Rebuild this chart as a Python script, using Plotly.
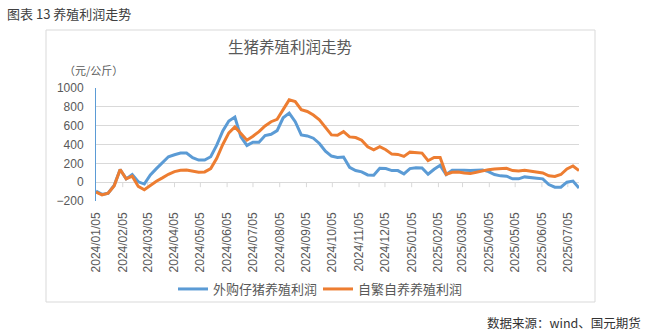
import pandas as pd
import plotly.graph_objects as go

# Weekly profit series (元/公斤)
dates = pd.date_range("2024-01-05", periods=81, freq="7D")

purchased_piglet = [
    -95, -130, -118, -35, 135, 35, 80, 4, -20, 77,
    144, 211, 270, 291, 309, 309, 260, 235, 235, 270,
    393, 544, 649, 691, 481, 390, 425, 425, 495, 509,
    547, 684, 734, 642, 502, 491, 467, 411, 330, 277,
    263, 267, 158, 123, 109, 77, 74, 147, 144, 123,
    123, 88, 144, 152, 151, 84, 137, 179, 81, 126,
    130, 126, 123, 130, 130, 112, 81, 67, 63, 35,
    35, 56, 53, 42, 35, -25, -53, -53, 0, 11,
    -63,
]

self_bred = [
    -105, -135, -118, -40, 135, 35, 63, -45, -80, -32,
    10, 46, 84, 112, 126, 130, 116, 105, 109, 144,
    253, 400, 523, 586, 516, 446, 488, 537, 597, 642,
    667, 776, 874, 856, 769, 751, 713, 663, 579, 502,
    498, 537, 481, 474, 446, 376, 344, 376, 344, 298,
    295, 274, 319, 316, 309, 228, 263, 263, 84, 105,
    109, 98, 91, 105, 123, 133, 140, 147, 147, 123,
    119, 126, 116, 105, 98, 67, 60, 81, 140, 172,
    123,
]

series_names = ["外购仔猪养殖利润", "自繁自养养殖利润"]
series_colors = ["#5b9bd5", "#ed7d31"]

tick_dates = pd.date_range("2024-01-05", "2025-07-05", freq=pd.DateOffset(months=1))
tick_labels = [d.strftime("%Y/%m/%d") for d in tick_dates]

y_ticks = [-200, 0, 200, 400, 600, 800, 1000]

# Figure geometry (pixels)
W, H = 648, 333
L, R, T, B = 96, 69, 88, 132
PW, PH = W - L - R, H - T - B


def px_x(x):
    return (x - L) / PW


def px_y(y):
    return (H - B - y) / PH


LATIN = "Liberation Sans, Arial, Noto Sans CJK SC"
CJK = "Noto Sans CJK SC"
GREY = "#595959"

fig = go.Figure()
for name, vals, col in zip(series_names, [purchased_piglet, self_bred], series_colors):
    fig.add_trace(go.Scatter(
        x=dates, y=vals, name=name, mode="lines",
        line=dict(color=col, width=3),
    ))

shapes = [
    # outer chart frame
    dict(type="rect", xref="paper", yref="paper",
         x0=px_x(46), x1=px_x(595), y0=px_y(302), y1=px_y(30),
         line=dict(color="#d9d9d9", width=1), layer="below"),
]
# category-axis tick marks hanging from the zero line
for d in tick_dates[1:]:
    shapes.append(dict(
        type="line", xref="x", yref="y", ysizemode="pixel", yanchor=0,
        x0=d, x1=d, y0=0, y1=-5,
        line=dict(color="#d9d9d9", width=1), layer="below",
    ))

annotations = [
    dict(text="图表 13 养殖利润走势", xref="paper", yref="paper",
         x=px_x(5), y=px_y(13), xanchor="left", yanchor="middle",
         showarrow=False, font=dict(family=CJK, size=13, color="#404040")),
    dict(text="生猪养殖利润走势", xref="paper", yref="paper",
         x=px_x(290), y=px_y(46), xanchor="center", yanchor="middle",
         showarrow=False, font=dict(family=CJK, size=15.5, color=GREY)),
    dict(text="（元/公斤）", xref="paper", yref="paper",
         x=px_x(62), y=px_y(70), xanchor="left", yanchor="middle",
         showarrow=False, font=dict(family=CJK, size=11, color=GREY)),
    dict(text="数据来源：wind、国元期货", xref="paper", yref="paper",
         x=px_x(643), y=px_y(322), xanchor="right", yanchor="middle",
         showarrow=False, font=dict(family=CJK, size=12.5, color="#333333")),
]

fig.update_layout(
    width=W, height=H,
    margin=dict(l=L, r=R, t=T, b=B, pad=0),
    paper_bgcolor="white", plot_bgcolor="white",
    showlegend=True,
    legend=dict(
        orientation="h", x=px_x(318), y=px_y(289),
        xanchor="center", yanchor="middle",
        font=dict(family=CJK, size=13, color=GREY),
        bgcolor="rgba(0,0,0,0)", itemwidth=30, tracegroupgap=0,
        entrywidth=100, entrywidthmode="pixels",
    ),
    shapes=shapes,
    annotations=annotations,
    xaxis=dict(
        type="date",
        range=[dates[0], dates[-1]],
        tickvals=tick_dates, ticktext=tick_labels,
        tickangle=-90, ticks="", showgrid=False, showline=False,
        zeroline=False, ticklabelstandoff=8,
        tickfont=dict(family=LATIN, size=12, color=GREY),
    ),
    yaxis=dict(
        range=[-200, 1000], tickvals=y_ticks,
        showgrid=True, gridcolor="#d9d9d9", gridwidth=1,
        zeroline=True, zerolinecolor="#d9d9d9", zerolinewidth=1,
        showline=True, linecolor="#5b9bd5", linewidth=1,
        ticks="", ticklabelstandoff=9,
        tickfont=dict(family=LATIN, size=12, color=GREY),
    ),
)

fig.write_html("out.html")
